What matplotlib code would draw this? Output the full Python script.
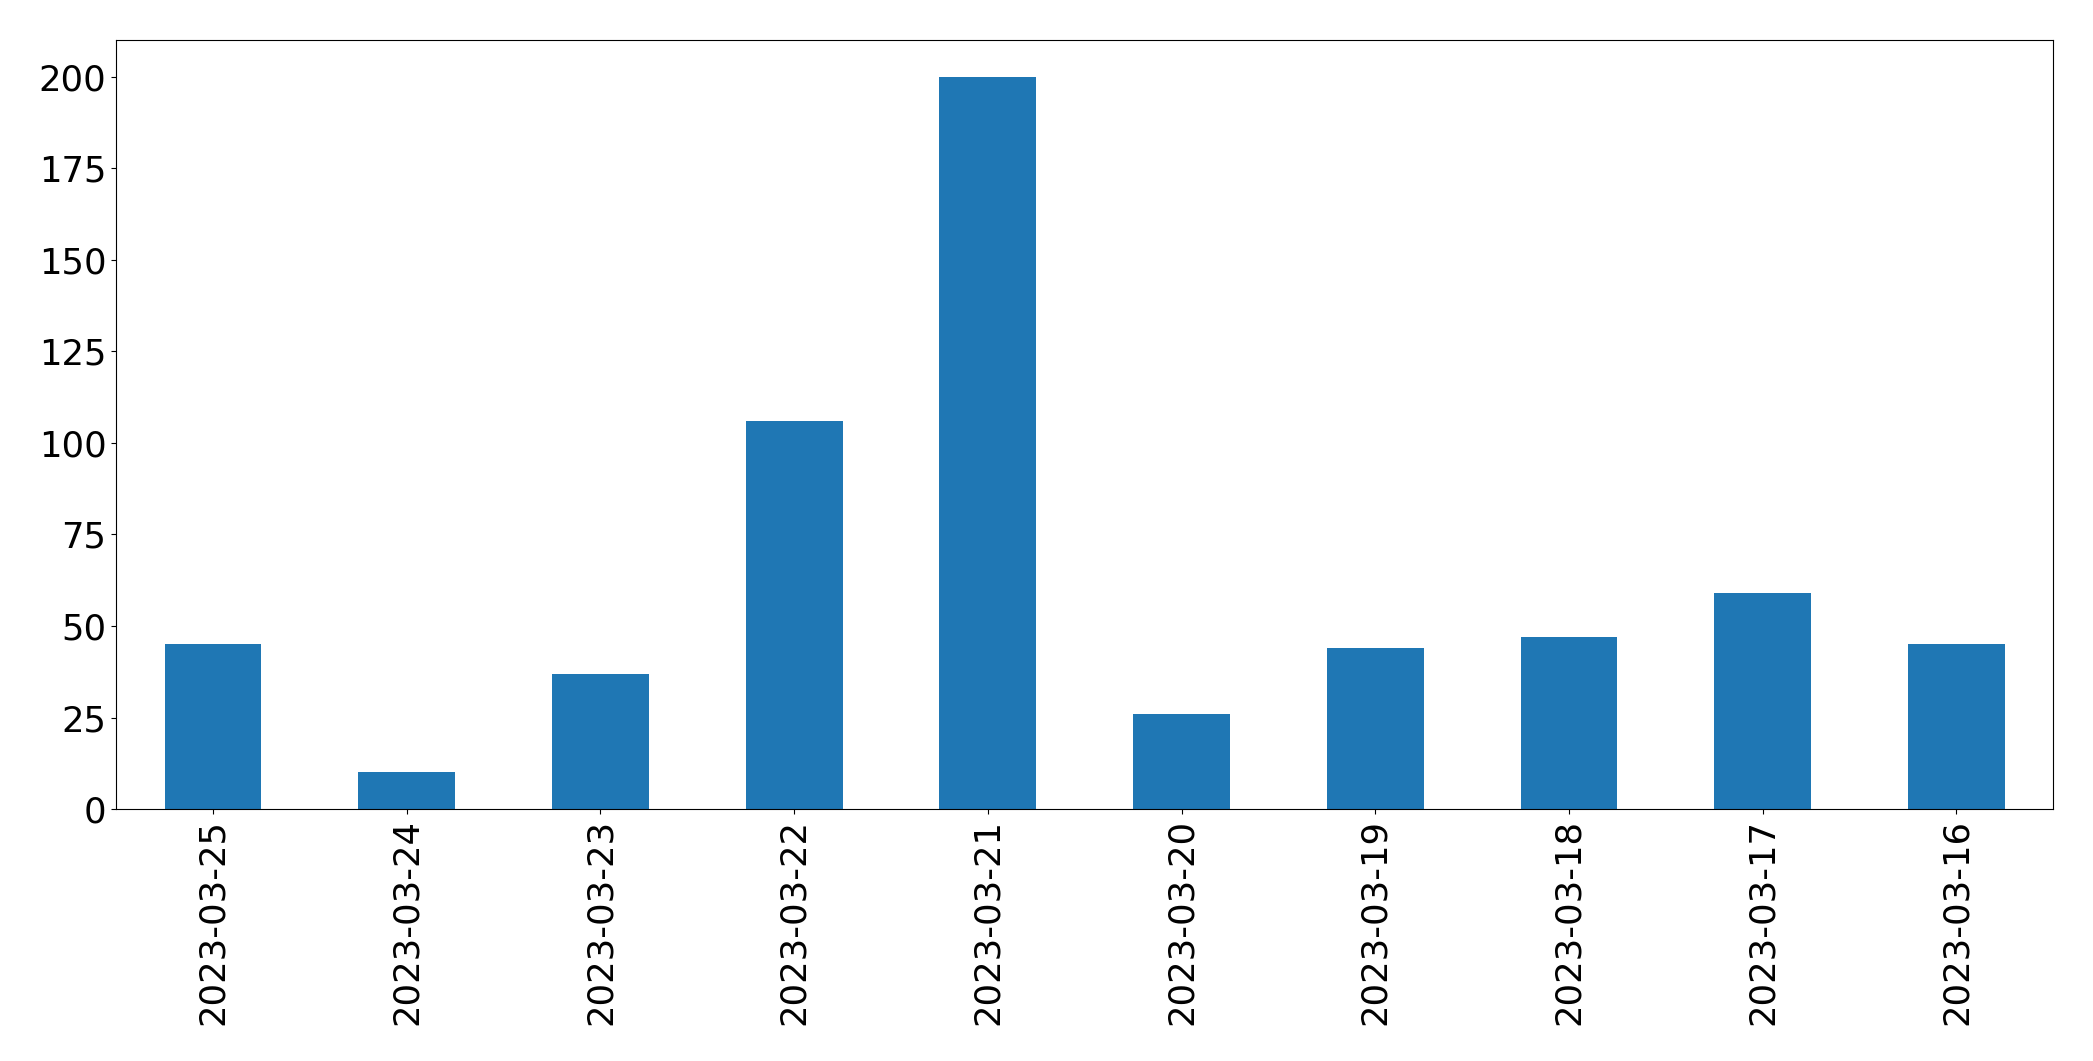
import pandas as pd
import matplotlib
matplotlib.use("Agg")
import matplotlib.pyplot as plt

dates = ["2023-03-25", "2023-03-24", "2023-03-23", "2023-03-22", "2023-03-21",
         "2023-03-20", "2023-03-19", "2023-03-18", "2023-03-17", "2023-03-16"]
counts = [45, 10, 37, 106, 200, 26, 44, 47, 59, 45]

s = pd.Series(counts, index=dates)

fig, ax = plt.subplots(figsize=(20.93, 10.61), dpi=100)
s.plot(kind="bar", ax=ax, color="#1f77b4")
ax.tick_params(axis="both", labelsize=25.5)
fig.subplots_adjust(left=0.0555, right=0.981, top=0.962, bottom=0.2375)

plt.savefig("out.png", dpi=100)
